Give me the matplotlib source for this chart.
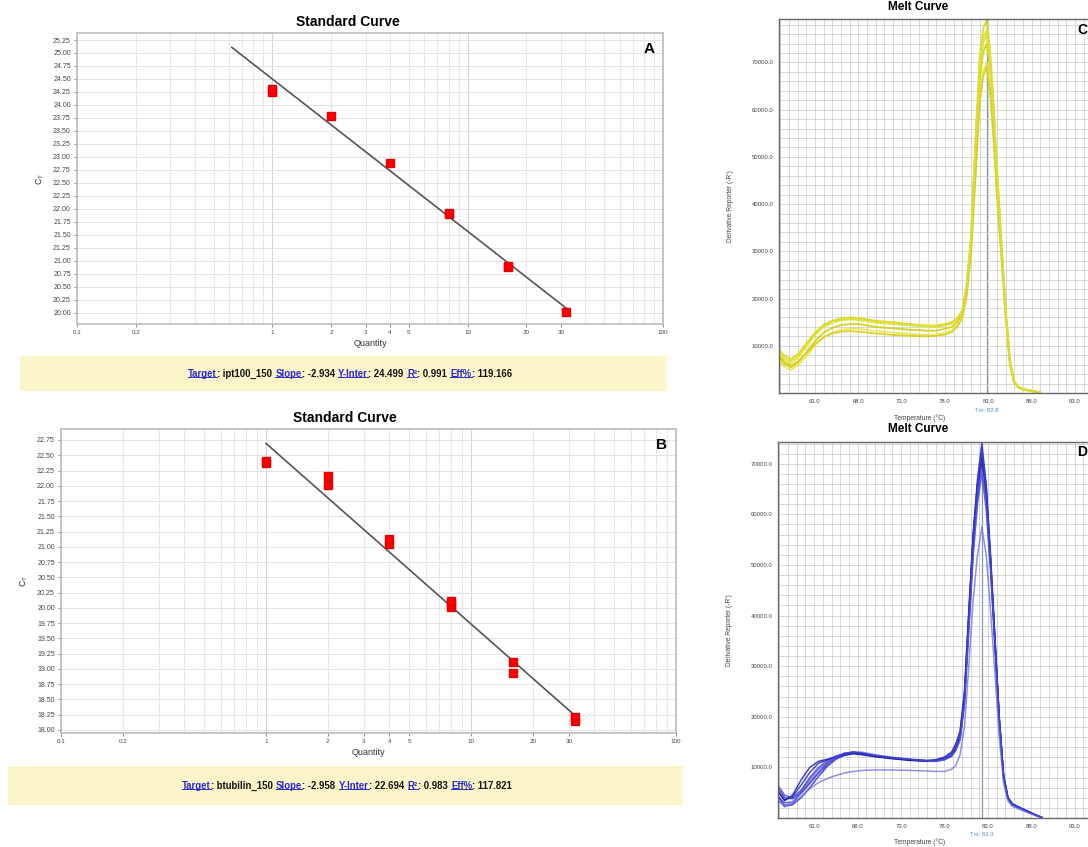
import matplotlib
matplotlib.use("Agg")
import matplotlib.pyplot as plt
import numpy as np
from matplotlib.lines import Line2D
from matplotlib.ticker import FixedLocator, FuncFormatter, MultipleLocator, NullLocator

plt.rcParams['font.family'] = ['Liberation Sans', 'DejaVu Sans']

W, H = 1088, 847

# standard curve, ipt100_150
qty_a = [1, 1, 2, 4, 8, 8, 16, 16, 32]
ct_a = [24.25, 24.30, 23.78, 22.89, 21.90, 21.92, 20.87, 20.90, 20.02]
target_a = "ipt100_150"
slope_a, yint_a, r2_a, eff_a = -2.934, 24.499, 0.991, 119.166

# standard curve, btubilin_150
qty_b = [1, 1, 2, 2, 4, 4, 8, 8, 8, 16, 16, 32, 32]
ct_b = [22.37, 22.41, 22.16, 22.02, 21.05, 21.12, 20.02, 20.07, 20.11, 19.11, 18.93, 18.15, 18.22]
target_b = "btubilin_150"
slope_b, yint_b, r2_b, eff_b = -2.958, 22.694, 0.983, 117.821

qty_ticks = [0.1, 0.2, 1, 2, 3, 4, 5, 10, 20, 30, 100]

# melt curves, derivative reporter in thousands
temp_c = [58.6, 59.4, 60.2, 61, 62, 63, 64, 65, 66, 67, 68, 69, 70, 72, 74, 76, 77, 78,
          78.8, 79.4, 80, 80.5, 81, 81.5, 82, 82.4, 82.8, 83.2, 83.6, 84, 84.5, 85, 85.5,
          86, 86.5, 87, 88, 89]
melt_c = [
    [9.8, 8.0, 7.2, 8.2, 10.5, 12.8, 14.5, 15.3, 15.8, 16.0, 15.9, 15.6, 15.3, 15.0, 14.6, 14.3, 14.3, 14.6,
     15.0, 15.8, 17.5, 23, 33, 53, 71, 77, 79, 73, 62, 48, 33, 18, 7, 2.5, 1.3, 0.9, 0.5, 0.1],
    [9.0, 7.0, 6.3, 7.4, 9.8, 12.2, 14.0, 14.9, 15.4, 15.6, 15.5, 15.2, 14.9, 14.6, 14.3, 14.0, 14.0, 14.3,
     14.7, 15.5, 17.2, 22.5, 32, 51, 69, 75, 77, 71, 60, 47, 32, 17.5, 6.8, 2.4, 1.2, 0.8, 0.5, 0.1],
    [8.2, 6.2, 5.4, 6.4, 8.6, 11.0, 12.8, 13.8, 14.4, 14.6, 14.6, 14.3, 14.0, 13.7, 13.4, 13.2, 13.2, 13.6,
     14.0, 15.0, 16.8, 22, 31, 49, 66, 72, 74, 69, 58, 45, 31, 17, 6.5, 2.3, 1.2, 0.8, 0.4, 0.1],
    [7.5, 5.6, 4.9, 5.8, 7.8, 10.0, 11.8, 12.8, 13.4, 13.6, 13.6, 13.4, 13.1, 12.8, 12.5, 12.3, 12.4, 12.8,
     13.3, 14.4, 16.3, 21, 30, 46, 62, 68, 70, 65, 55, 43, 30, 16.5, 6.2, 2.2, 1.1, 0.8, 0.4, 0.1],
    [8.6, 6.6, 5.8, 6.6, 8.4, 10.4, 11.8, 12.6, 13.0, 13.1, 13.0, 12.8, 12.6, 12.3, 12.1, 12.0, 12.1, 12.4,
     12.9, 14.0, 15.8, 20.5, 29, 45, 61, 67, 69, 64, 54, 42, 29, 16, 6.0, 2.1, 1.1, 0.7, 0.4, 0.1],
    [9.4, 7.4, 6.8, 7.9, 10.2, 12.6, 14.3, 15.1, 15.6, 15.7, 15.6, 15.4, 15.1, 14.8, 14.4, 14.2, 14.1, 14.4,
     14.8, 15.6, 17.4, 22.8, 32.5, 52, 68, 74, 76, 70, 59, 46, 32, 17.5, 6.8, 2.4, 1.2, 0.8, 0.5, 0.1],
]
colors_c = ['#d6d61e', '#e3e32c', '#cfcf10', '#e8e850', '#d8cc18', '#dede3a']
tm_c = 82.8

temp_d = [58.6, 59.6, 60.5, 61.5, 62.5, 63.5, 64.5, 65.5, 66.5, 67.5, 68.5, 70, 72, 74, 76, 77, 78,
          78.8, 79.3, 79.8, 80.3, 80.8, 81.3, 81.8, 82.3, 82.8, 83.3, 83.8, 84.3, 84.8, 85.3, 85.8,
          86.5, 87.5, 88.5, 89.2]
melt_d = [
    [5.5, 3.6, 4.2, 6.5, 9.0, 10.8, 11.5, 12.2, 12.6, 12.8, 12.6, 12.2, 11.8, 11.5, 11.3, 11.4, 11.9,
     12.8, 14.2, 16.5, 24, 40, 56, 67, 74, 66, 52, 36, 20, 8.5, 4.0, 2.8, 2.2, 1.4, 0.6, 0.1],
    [6.5, 4.0, 3.8, 5.0, 7.0, 9.0, 10.8, 12.0, 12.8, 13.0, 12.7, 12.2, 11.8, 11.4, 11.2, 11.3, 11.7,
     12.4, 13.6, 16, 23, 38, 53, 64, 70, 63, 50, 35, 19.5, 8.2, 3.9, 2.7, 2.1, 1.3, 0.6, 0.1],
    [4.5, 3.0, 3.2, 4.8, 6.8, 8.8, 10.5, 11.8, 12.6, 12.9, 12.8, 12.3, 11.9, 11.6, 11.3, 11.3, 11.6,
     12.2, 13.4, 15.5, 22.5, 37, 52, 62, 68, 61, 49, 34, 19, 8, 3.8, 2.6, 2.0, 1.3, 0.5, 0.1],
    [5.0, 2.5, 2.6, 4.0, 6.0, 8.2, 10.2, 11.6, 12.4, 12.8, 12.7, 12.3, 11.9, 11.5, 11.2, 11.2, 11.5,
     12.3, 13.6, 16, 23.5, 39, 54, 65, 71, 64, 51, 35, 19.5, 8.2, 3.9, 2.7, 2.1, 1.3, 0.6, 0.1],
    [6.0, 3.4, 4.5, 7.5, 10.0, 11.2, 11.6, 12.0, 12.4, 12.7, 12.5, 12.1, 11.7, 11.4, 11.3, 11.5, 12.0,
     13.0, 14.6, 17.2, 25, 41, 56, 66, 72, 65, 51, 35.5, 19.8, 8.3, 4.0, 2.8, 2.2, 1.4, 0.6, 0.1],
    [4.0, 2.2, 2.8, 5.2, 7.6, 9.6, 11.0, 12.0, 12.7, 13.1, 13.0, 12.5, 12.0, 11.6, 11.3, 11.2, 11.5,
     12.1, 13.3, 15.5, 22.5, 37.5, 52, 63, 69, 62, 49.5, 34.5, 19, 8, 3.8, 2.6, 2.0, 1.3, 0.5, 0.1],
    [3.8, 2.5, 3.0, 4.2, 5.8, 7.0, 7.8, 8.4, 8.9, 9.2, 9.4, 9.5, 9.5, 9.4, 9.3, 9.2, 9.2,
     9.6, 10.4, 12.5, 18, 30, 43, 52, 57.5, 52, 41, 29, 16, 7, 3.4, 2.3, 1.8, 1.1, 0.5, 0.1],
    [7.0, 4.5, 4.0, 5.5, 8.0, 10.0, 11.3, 12.2, 12.8, 13.0, 12.8, 12.3, 11.9, 11.6, 11.4, 11.5, 12.0,
     12.9, 14.4, 17, 24.5, 40.5, 55.5, 66, 73, 65.5, 51.5, 35.5, 19.8, 8.4, 4.0, 2.8, 2.2, 1.4, 0.6, 0.1],
]
colors_d = ['#2020b8', '#3434cc', '#4a4ad8', '#2a2ac4', '#1818a8', '#5a5ae0', '#7474dc', '#3c3cd0']
tm_d = 82.3

temp_ticks = [63, 68, 73, 78, 83, 88, 93]

fig = plt.figure(figsize=(W / 100, H / 100), dpi=100)


def px_axes(l, t, r, b):
    return fig.add_axes([l / W, 1 - b / H, (r - l) / W, (b - t) / H])


def fxy(x, y):
    return x / W, 1 - y / H


def std_curve(rect, qty, ct, slope, yint, q_from, ylim, title_y, title_x, letter):
    ax = px_axes(*rect)
    ax.set_xscale('log')
    ax.set_xlim(0.1, 100)
    ax.set_ylim(*ylim)
    minor = [m * 10.0 ** e for e in (-1, 0, 1) for m in range(1, 10)]
    for q in minor:
        ax.axvline(q, color='#e6e6e6', lw=0.7, zorder=0)
    for q in (1, 10):
        ax.axvline(q, color='#d4d4d4', lw=0.8, zorder=0)
    ax.xaxis.set_major_locator(FixedLocator(qty_ticks))
    ax.xaxis.set_major_formatter(FuncFormatter(lambda v, p: f"{v:g}"))
    ax.xaxis.set_minor_locator(NullLocator())
    ax.yaxis.set_major_locator(MultipleLocator(0.25))
    ax.yaxis.set_major_formatter(FuncFormatter(lambda v, p: f"{v:.2f}"))
    ax.grid(axis='y', color='#e2e2e2', lw=0.7, zorder=0)
    ax.tick_params(axis='both', labelsize=5, length=2.5, width=0.6, colors='#777777', labelcolor='#444444', pad=2)
    ax.tick_params(axis='x', labelsize=4.5)
    for s in ax.spines.values():
        s.set_color('#bbbbbb')
        s.set_linewidth(1.2)
    q_line = np.array([q_from, max(qty)])
    ax.plot(q_line, slope * np.log10(q_line) + yint, color='#555555', lw=1.2, zorder=2)
    ax.plot(qty, ct, 's', color='#ff0000', ms=6.2, mec='#e00000', zorder=3)
    ax.set_xlabel("Quantity", fontsize=6.5, color='#333333', labelpad=3)
    ax.set_ylabel("C$_\\mathregular{T}$", fontsize=6.5, color='#333333', labelpad=5)
    fig.text(*fxy(title_x, title_y), "Standard Curve", fontsize=10, fontweight='bold', ha='center', va='center')
    ax.text(0.985, 0.97, letter, transform=ax.transAxes, fontsize=11, fontweight='bold', ha='right', va='top')
    return ax


std_curve((77, 33, 663, 324), qty_a, ct_a, slope_a, yint_a, 0.62, (19.78, 25.385), 22, 348, "A")
std_curve((61, 429, 676, 733), qty_b, ct_b, slope_b, yint_b, 1.0, (17.95, 22.93), 418, 345, "B")

# statistics banners
link_color = '#2a2acc'
underline_texts = []


def stats_banner(box, text_y, target, slope, yint, r2, eff):
    l, t, r, b = box
    bax = px_axes(l, t, r, b)
    bax.set_facecolor('#fcf5c9')
    bax.set_xticks([])
    bax.set_yticks([])
    for s in bax.spines.values():
        s.set_visible(False)
    parts = [("Target", True), (f": {target}", False), ("Slope", True), (f": {slope}", False),
             ("Y-Inter", True), (f": {yint}", False), ("R²", True), (f": {r2}", False),
             ("Eff%", True), (f": {eff}", False)]
    pieces = []
    for s, link in parts:
        kw = dict(fontsize=6.9, fontweight='bold', color=link_color if link else '#111111')
        if not pieces:
            t = fig.text(*fxy(0, text_y), s, va='center', ha='left', **kw)
        else:
            t = fig.text(0, 0, s, va='bottom', ha='left', **kw)
        pieces.append((t, link))
        if link:
            underline_texts.append(t)
    return pieces


banner_a = stats_banner((20, 356, 667, 391), 374, target_a, slope_a, yint_a, r2_a, eff_a)
banner_b = stats_banner((8, 766, 683, 805), 786, target_b, slope_b, yint_b, r2_b, eff_b)


def melt(rect, temps, curves, colors, tm, ylim, title_y, letter, letter_y, tm_y, xlabel_y, alpha, lw):
    ax = px_axes(*rect)
    ax.set_xlim(58.84, 95.9)
    ax.set_ylim(*ylim)
    ax.xaxis.set_minor_locator(MultipleLocator(1))
    ax.yaxis.set_minor_locator(MultipleLocator(2000))
    ax.grid(which='both', color='#c8c8c8', lw=0.5, zorder=0)
    ax.xaxis.set_major_locator(FixedLocator(temp_ticks))
    ax.yaxis.set_major_locator(FixedLocator([10000, 20000, 30000, 40000, 50000, 60000, 70000]))
    ax.xaxis.set_major_formatter(FuncFormatter(lambda v, p: f"{v:.1f}"))
    ax.yaxis.set_major_formatter(FuncFormatter(lambda v, p: f"{v:.1f}"))
    ax.tick_params(which='both', length=0, labelsize=4.3, labelcolor='#444444', pad=4)
    for s in ax.spines.values():
        s.set_color('#666666')
        s.set_linewidth(1.0)
    ax.axvline(tm, color='#7f9ab0', lw=0.9, zorder=1)
    for vals, c in zip(curves, colors):
        ax.plot(temps, np.array(vals) * 1000, color=c, lw=lw, alpha=alpha, zorder=2)
    ax.set_ylabel("Derivative Reporter (-R')", fontsize=4.8, color='#444444', labelpad=13)
    fig.text(*fxy(918, title_y), "Melt Curve", fontsize=8.5, fontweight='bold', ha='center', va='center')
    fig.text(*fxy(920, xlabel_y), "Temperature (°C)", fontsize=4.8, color='#444444', ha='center', va='center')
    x_tm = ax.transData.transform((tm, 0))[0] / fig.dpi / fig.get_figwidth()
    fig.text(x_tm, 1 - tm_y / H, f"Tm: {tm}", fontsize=4.3, color='#5b8fc8', ha='center', va='center')
    fig.text(*fxy(1077, letter_y), letter, fontsize=10, fontweight='bold', ha='left', va='center')
    return ax


melt((779, 19, 1100, 393), temp_c, melt_c, colors_c, tm_c, (0, 79200), 7, "C", 30, 410, 418, 0.9, 1.3)
melt((778, 442, 1100, 818), temp_d, melt_d, colors_d, tm_d, (0, 74300), 429, "D", 452, 834, 842, 0.8, 1.1)

# lay out the banner pieces left to right with a word gap after each value, then centre
renderer = fig.canvas.get_renderer()
gap = 3.5
for pieces, cx in ((banner_a, 350), (banner_b, 347)):
    first = pieces[0][0]
    first.set_x(0)
    bb = first.get_window_extent(renderer)
    x = bb.x1
    base = bb.y0
    for t, link in pieces[1:]:
        t.set_position((x / W, base / H))
        x = t.get_window_extent(renderer).x1 + (0 if link else gap)
    shift = cx - (x - gap) / 2
    for t, link in pieces:
        px, py = t.get_position()
        t.set_x(px + shift / W)

for t in underline_texts:
    bb = t.get_window_extent(renderer)
    y = (bb.y0 + 2.2) / H
    fig.add_artist(Line2D([bb.x0 / W, bb.x1 / W], [y, y], color=link_color, lw=0.7))

fig.savefig("out.png", dpi=100)
